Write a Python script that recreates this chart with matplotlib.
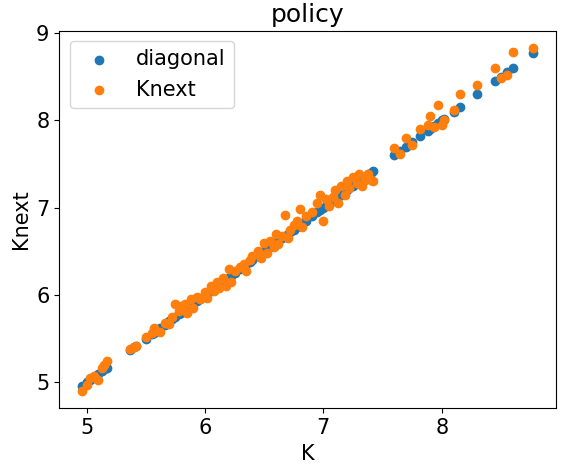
import matplotlib
matplotlib.use("Agg")
import matplotlib.pyplot as plt

K = [4.96,5.0,5.03,5.06,5.1,5.13,5.15,5.17,5.37,5.4,5.42,5.5,5.55,5.57,5.62,5.66,5.7,5.72,5.75,5.78,5.8,5.83,5.85,5.88,5.9,5.93,5.96,6.0,6.02,6.05,6.08,6.1,6.12,6.15,6.18,6.2,6.22,6.25,6.3,6.33,6.35,6.38,6.4,6.45,6.47,6.5,6.52,6.55,6.58,6.6,6.62,6.65,6.68,6.7,6.72,6.75,6.78,6.8,6.82,6.85,6.9,6.95,6.97,7.0,7.02,7.05,7.08,7.1,7.12,7.15,7.18,7.2,7.22,7.25,7.28,7.3,7.33,7.35,7.38,7.4,7.42,7.6,7.65,7.7,7.75,7.82,7.88,7.9,7.93,7.97,8.0,8.02,8.1,8.15,8.3,8.45,8.5,8.55,8.6,8.77]
Knext = [4.9,4.97,5.05,5.07,5.03,5.17,5.2,5.25,5.38,5.41,5.42,5.52,5.57,5.62,5.58,5.68,5.67,5.75,5.9,5.82,5.88,5.9,5.8,5.95,5.85,5.98,5.95,6.03,5.97,6.1,6.05,6.15,6.08,6.2,6.1,6.3,6.15,6.28,6.32,6.35,6.28,6.4,6.45,6.5,6.42,6.6,6.48,6.62,6.55,6.7,6.58,6.68,6.92,6.65,6.75,6.8,6.85,6.98,6.78,6.9,6.95,7.05,7.15,6.85,7.1,7.02,7.12,7.2,7.05,7.25,7.15,7.3,7.22,7.35,7.28,7.38,7.25,7.32,7.38,7.32,7.3,7.68,7.62,7.8,7.72,7.9,7.95,8.05,7.92,8.18,7.95,8.0,8.12,8.3,8.4,8.6,8.48,8.52,8.78,8.83]
xticks = [5, 6, 7, 8]
yticks = [5, 6, 7, 8, 9]

plt.rcParams['font.size'] = 15
fig, ax = plt.subplots(figsize=(5.64, 4.72), dpi=100)
ax.scatter(K, K, label='diagonal')
ax.scatter(K, Knext, label='Knext')
ax.set_xticks(xticks)
ax.set_yticks(yticks)
ax.set_title('policy')
ax.set_xlabel('K')
ax.set_ylabel('Knext')
ax.legend(loc='upper left')
fig.subplots_adjust(left=0.105, right=0.985, top=0.935, bottom=0.135)
fig.savefig('out.png')
